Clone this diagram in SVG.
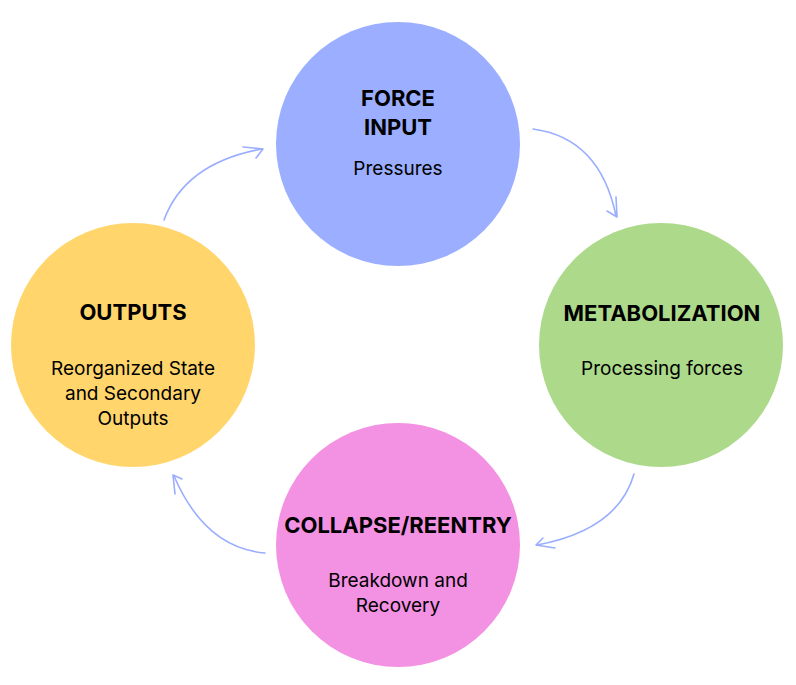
<svg xmlns="http://www.w3.org/2000/svg" width="796" height="685" viewBox="0 0 796 685">
<style>
.t{font-family:Inter,"Liberation Sans",sans-serif;font-weight:700;font-size:22px;fill:#000;text-anchor:middle}
.b{font-family:Inter,"Liberation Sans",sans-serif;font-weight:400;font-size:19px;fill:#000;text-anchor:middle}
.c{fill:none;stroke:#9AAEFF;stroke-width:1.6;stroke-linecap:round;stroke-linejoin:round}
</style>
<rect width="796" height="685" fill="#fff"/>
<g id="force-input">
<circle cx="398" cy="144" r="122" fill="#9BAEFF"/>
<text class="t" x="398" y="106">FORCE</text>
<text class="t" x="398" y="135">INPUT</text>
<text class="b" x="398" y="175">Pressures</text>
</g>
<g id="metabolization">
<circle cx="661" cy="345" r="122" fill="#ADD98A"/>
<text class="t" x="662" y="321">METABOLIZATION</text>
<text class="b" x="662" y="375">Processing forces</text>
</g>
<g id="collapse-reentry">
<circle cx="398" cy="545" r="122" fill="#F391E3"/>
<text class="t" x="398" y="533">COLLAPSE/REENTRY</text>
<text class="b" x="398" y="587">Breakdown and</text>
<text class="b" x="398" y="612">Recovery</text>
</g>
<g id="outputs">
<circle cx="133" cy="345" r="122" fill="#FFD56C"/>
<text class="t" x="133" y="320">OUTPUTS</text>
<text class="b" x="133" y="375">Reorganized State</text>
<text class="b" x="133" y="400">and Secondary</text>
<text class="b" x="133" y="425">Outputs</text>
</g>
<g id="connectors">
<path class="c" d="M533,129 Q600,138 616,216"/>
<path class="c" d="M607,211 L617,217 L616,197"/>
<path class="c" d="M634,474 Q618,530 537,545"/>
<path class="c" d="M543,538 L536,545 L555,548"/>
<path class="c" d="M265,553 Q205,548 174,476"/>
<path class="c" d="M175,494 L173,475 L182,479"/>
<path class="c" d="M164,220 Q185,163 262,149"/>
<path class="c" d="M243,147 L263,149 L256,158"/>
</g>
</svg>
